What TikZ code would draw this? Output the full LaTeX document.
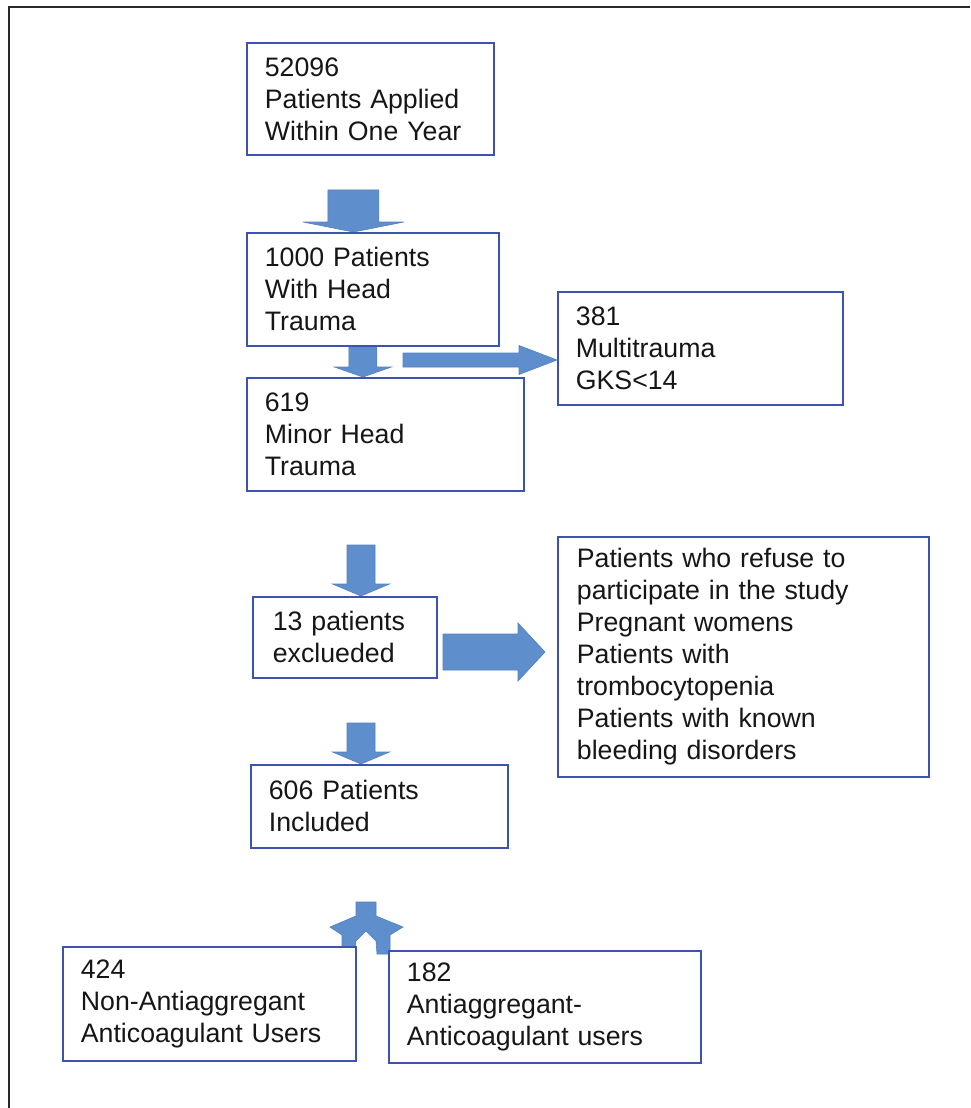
\documentclass[tikz,border=0pt]{standalone}
\usepackage{fontspec}
\setmainfont{Liberation Sans}
\usetikzlibrary{calc}
\pgfdeclarelayer{bg}
\pgfsetlayers{bg,main}
\definecolor{boxline}{RGB}{62,82,178}
\definecolor{arrfill}{RGB}{94,143,204}
\definecolor{arrline}{RGB}{82,128,192}
\definecolor{txt}{RGB}{22,22,22}
\definecolor{frame}{RGB}{40,40,40}
\newcommand\blockarr[5]{%
  \coordinate (tmpH) at ($(#2)!#5!(#1)$);
  \filldraw[arrowstyle] ($(#1)!#3!90:(#2)$) -- ($(tmpH)!#3!-90:(#1)$) -- ($(tmpH)!#4!-90:(#1)$) -- (#2)
    -- ($(tmpH)!#4!90:(#1)$) -- ($(tmpH)!#3!90:(#1)$) -- ($(#1)!#3!-90:(#2)$) -- cycle;}
\begin{document}
\begin{tikzpicture}[x=1pt,y=-1pt,
  flowbox/.style={draw=boxline,fill=white,line width=1.8pt,anchor=north west,align=left,
    inner xsep=18pt,inner ysep=0pt,text=txt,
    font=\fontsize{26.7}{32}\selectfont},
  arrowstyle/.style={fill=arrfill,draw=arrline,line width=0.6pt,line join=miter}]
\useasboundingbox (0,0) rectangle (970,1108);
\begin{pgfonlayer}{bg}
\fill[white] (0,0) rectangle (970,1108);
\end{pgfonlayer}
\draw[frame,line width=1.8pt] (970,7) -- (9,7) -- (9,1108);

% boxes
\node[flowbox,minimum width=247pt,minimum height=112pt,text width=211pt] (b1) at (246,42)
  {52096\\Patients Applied\\Within One Year};
\node[flowbox,minimum width=252pt,minimum height=113pt,text width=216pt] (b2) at (246,232)
  {1000 Patients\\With Head\\Trauma};
\node[flowbox,minimum width=277pt,minimum height=113pt,text width=241pt] (b3) at (246,377)
  {619\\Minor Head\\Trauma};
\node[flowbox,minimum width=285pt,minimum height=113pt,text width=249pt] (b381) at (557,291)
  {381\\Multitrauma\\GKS<14};
\node[flowbox,minimum width=184pt,minimum height=81pt,text width=144pt,inner xsep=20pt] (b13) at (252,596)
  {13 patients\\exclueded};
\node[flowbox,minimum width=371pt,minimum height=240pt,text width=333pt,inner xsep=19pt] (bex) at (557,536)
  {Patients who refuse to\\participate in the study\\Pregnant womens\\Patients with\\trombocytopenia\\Patients with known\\bleeding disorders};
\node[flowbox,minimum width=257pt,minimum height=83pt,text width=221pt] (b606) at (250,764)
  {606 Patients\\Included};
\node[flowbox,minimum width=293pt,minimum height=114pt,text width=257pt] (b424) at (62,946)
  {424\\Non-Antiaggregant\\Anticoagulant Users};
\node[flowbox,minimum width=312pt,minimum height=112pt,text width=276pt] (b182) at (388,950)
  {182\\Antiaggregant-\\Anticoagulant users};

\begin{pgfonlayer}{bg}
% block arrows
\coordinate (a1s) at ([xshift=-17pt,yshift=-34pt]b1.south);
\coordinate (a1e) at (a1s |- b2.north);
\blockarr{a1s}{a1e}{25.5pt}{50.5pt}{10pt}

\coordinate (a2s) at ([xshift=-10pt]b2.south);
\coordinate (a2e) at (a2s |- b3.north);
\blockarr{a2s}{a2e}{14pt}{28.5pt}{10pt}

\coordinate (a3s) at (403,360);
\coordinate (a3e) at (b381.west |- a3s);
\blockarr{a3s}{a3e}{7pt}{14.5pt}{38pt}

\coordinate (a4s) at (361,545);
\coordinate (a4e) at (a4s |- b13.north);
\blockarr{a4s}{a4e}{14pt}{28.5pt}{12pt}

\coordinate (a5s) at (443,652);
\coordinate (a5e) at ([xshift=-12pt]bex.west |- a5s);
\blockarr{a5s}{a5e}{18pt}{29pt}{27pt}

\coordinate (a6s) at (361,723);
\coordinate (a6e) at (a6s |- b606.north);
\blockarr{a6s}{a6e}{14pt}{28.5pt}{12pt}

% split arrow to the two groups (heads partly under the boxes)
\coordinate (sp) at (366,902);
\filldraw[arrowstyle] ($(sp)+(-10,0)$) -- ($(sp)+(10,0)$) -- ($(sp)+(10,14)$) -- ($(sp)+(37,25)$)
  -- ($(sp)+(24,33)$) -- ($(sp)+(24,52)$) -- ($(sp)+(11,52)$) -- ($(sp)+(10,39)$)
  -- ($(sp)+(0,29)$) -- ($(sp)+(-10,39)$) -- ($(sp)+(-11,52)$) -- ($(sp)+(-24,52)$)
  -- ($(sp)+(-24,33)$) -- ($(sp)+(-36,25)$) -- ($(sp)+(-10,14)$) -- cycle;
\end{pgfonlayer}
\end{tikzpicture}
\end{document}
